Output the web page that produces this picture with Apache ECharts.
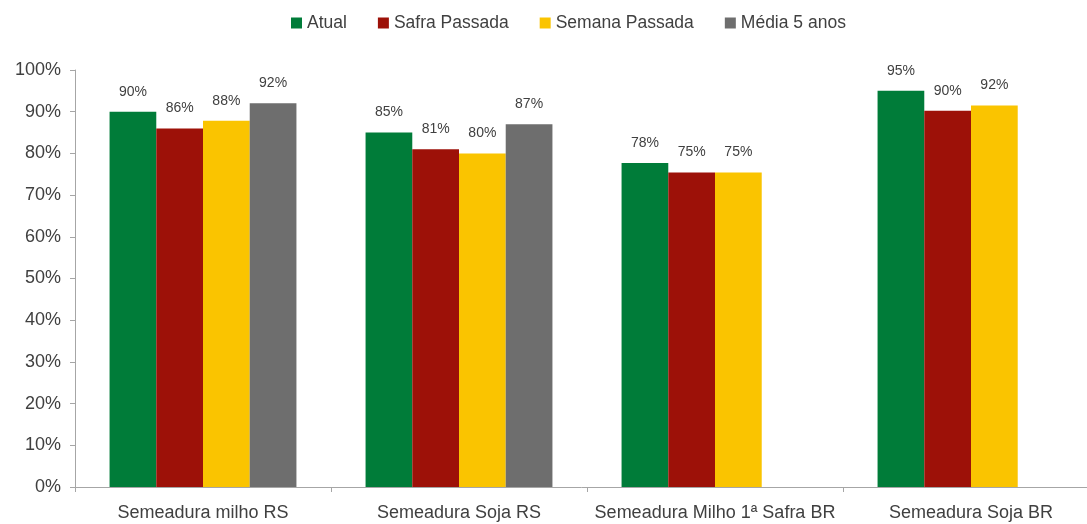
<!DOCTYPE html>
<html><head><meta charset="utf-8">
<script src="https://cdn.jsdelivr.net/npm/echarts@6/dist/echarts.min.js"></script>
<style>html,body{margin:0;padding:0;background:#fff}#c{width:1087px;height:524px}</style>
</head><body><div id="c"></div>
<script>
const categories = ['Semeadura milho RS', 'Semeadura Soja RS', 'Semeadura Milho 1ª Safra BR', 'Semeadura Soja BR'];
const seriesNames = ['Atual', 'Safra Passada', 'Semana Passada', 'Média 5 anos'];
const atual = [90, 85, 77.7, 95];
const safraPassada = [86, 81, 75.4, 90.2];
const semanaPassada = [87.8, 80, 75.4, 91.5];
const media5anos = [92, 87, null, null];
const yTicks = [0, 10, 20, 30, 40, 50, 60, 70, 80, 90, 100];
const colors = ['#007C39', '#9D1108', '#FAC400', '#6E6E6E'];

const font = 'Liberation Sans, Arial, sans-serif';
const dataSets = [atual, safraPassada, semanaPassada, media5anos];
const chart = echarts.init(document.getElementById('c'));
chart.setOption({
  animation: false,
  textStyle: {fontFamily: font},
  legend: {
    top: 9, left: 286, itemWidth: 11, itemHeight: 11, itemGap: 31,
    icon: 'rect',
    textStyle: {fontSize: 17.5, color: '#404040', fontFamily: font},
    data: seriesNames
  },
  grid: {left: 75, width: 1024, top: 70, bottom: 37, outerBoundsMode: 'none', containLabel: false},
  xAxis: {
    type: 'category', data: categories,
    axisLine: {lineStyle: {color: '#A6A6A6'}},
    axisTick: {show: true, length: 5, lineStyle: {color: '#A6A6A6'}},
    axisLabel: {fontSize: 18, color: '#404040', margin: 17, interval: 0, fontFamily: font}
  },
  yAxis: {
    type: 'value', min: 0, max: 100, interval: 10,
    axisLine: {show: true, lineStyle: {color: '#A6A6A6'}},
    axisTick: {show: true, length: 5, lineStyle: {color: '#A6A6A6'}},
    splitLine: {show: false},
    axisLabel: {fontSize: 18, color: '#404040', margin: 14, fontFamily: font,
      formatter: v => yTicks.includes(v) ? v + '%' : ''}
  },
  series: seriesNames.map((n, i) => ({
    name: n, type: 'bar', data: dataSets[i],
    barGap: '0%', barCategoryGap: '27%',
    itemStyle: {color: colors[i]},
    label: {show: true, position: 'top', distance: 13, fontSize: 14, color: '#404040', fontFamily: font,
      formatter: p => p.value == null ? '' : Math.round(p.value) + '%'}
  }))
});
</script></body></html>
